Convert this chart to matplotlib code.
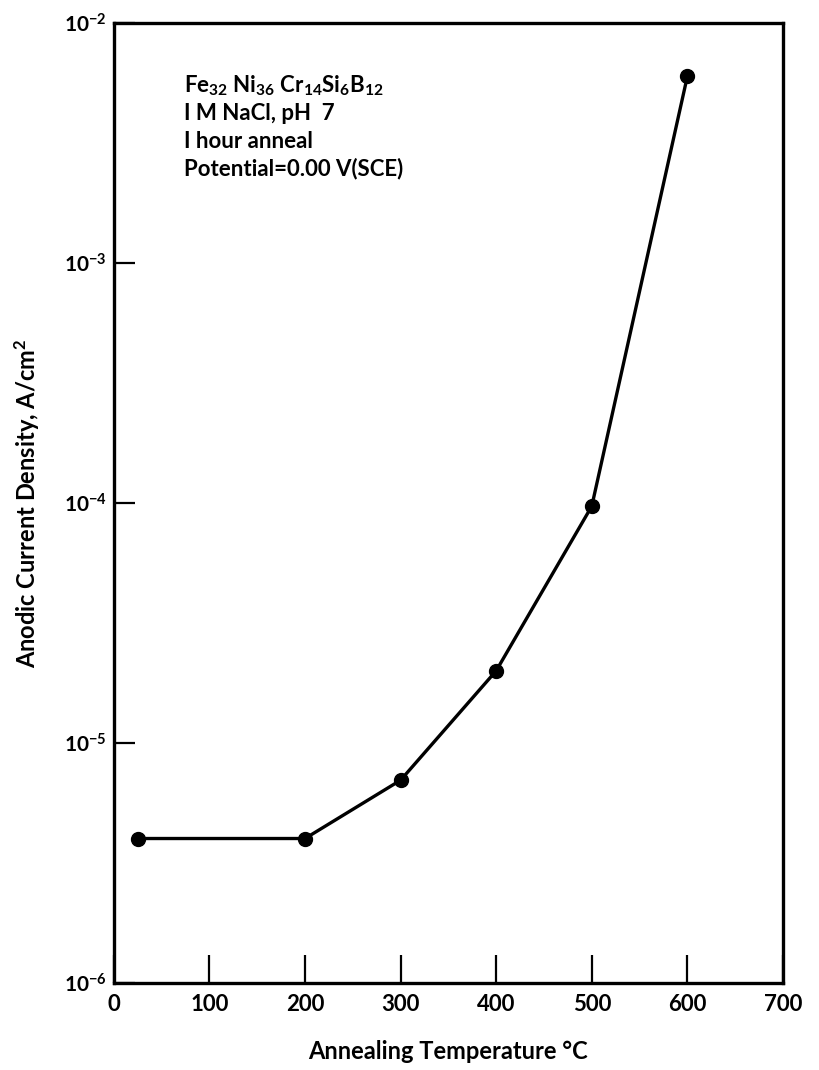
import matplotlib
matplotlib.use("Agg")
import matplotlib.pyplot as plt
from matplotlib.ticker import FixedLocator, NullLocator

# Anodic current density vs. annealing temperature
temperature_c = [25, 200, 300, 400, 500, 600]
current_density = [4.0e-6, 4.0e-6, 7.0e-6, 2.0e-5, 9.7e-5, 6.0e-3]

x_ticks = [0, 100, 200, 300, 400, 500, 600, 700]
y_ticks = [1e-6, 1e-5, 1e-4, 1e-3, 1e-2]
y_tick_labels = [r"$10^{-6}$", r"$10^{-5}$", r"$10^{-4}$", r"$10^{-3}$",
                 r"$10^{-2}$"]

plt.rcParams["font.family"] = ["Lato", "DejaVu Sans"]
plt.rcParams["font.weight"] = "bold"
plt.rcParams["mathtext.fontset"] = "custom"
plt.rcParams["mathtext.rm"] = "Lato:bold"
plt.rcParams["mathtext.it"] = "Lato:bold"
plt.rcParams["mathtext.bf"] = "Lato:bold"
plt.rcParams["mathtext.default"] = "rm"

fig = plt.figure(figsize=(8.19, 10.70), dpi=100)
ax = fig.add_axes([0.139, 0.0813, 0.817, 0.8972])

ax.plot(temperature_c, current_density, color="black", lw=2.4,
        marker="o", markersize=10, markerfacecolor="black",
        markeredgecolor="black", solid_joinstyle="round")

ax.set_yscale("log")
ax.set_xlim(0, 700)
ax.set_ylim(1e-6, 1e-2)

ax.xaxis.set_major_locator(FixedLocator(x_ticks))
ax.set_xticklabels([str(t) for t in x_ticks])
ax.yaxis.set_major_locator(FixedLocator(y_ticks))
ax.set_yticklabels(y_tick_labels)
ax.yaxis.set_minor_locator(NullLocator())
ax.xaxis.set_minor_locator(NullLocator())

for s in ax.spines.values():
    s.set_linewidth(2.4)

ax.tick_params(axis="x", direction="in", length=20, width=1.6,
               labelsize=16, pad=8)
ax.tick_params(axis="y", direction="in", length=15, width=1.6,
               labelsize=15, pad=5)

ax.set_xlabel("Annealing Temperature °C", fontsize=17, fontweight="bold",
              labelpad=18)
ax.set_ylabel(r"Anodic Current Density, A/cm$^{2}$", fontsize=17,
              fontweight="bold", labelpad=16)

notes = [
    r"Fe$_{32}$ Ni$_{36}$ Cr$_{14}$Si$_{6}$B$_{12}$",
    "I M NaCl, pH  7",
    "I hour anneal",
    "Potential=0.00 V(SCE)",
]
y0 = 0.935
for i, line in enumerate(notes):
    ax.text(0.105, y0 - i * 0.029, line, transform=ax.transAxes,
            fontsize=16, fontweight="bold", va="center", ha="left")

fig.savefig("out.png", dpi=100, facecolor="white")
